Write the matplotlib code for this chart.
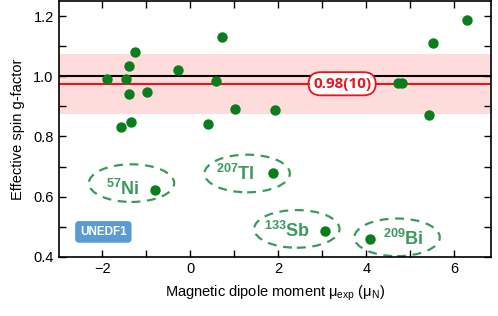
import matplotlib
matplotlib.use("Agg")
import matplotlib.pyplot as plt
from matplotlib.patches import Ellipse

plt.rcParams['font.family'] = ['Liberation Sans', 'DejaVu Sans']
plt.rcParams['mathtext.fontset'] = 'custom'
plt.rcParams['mathtext.rm'] = 'Liberation Sans'
plt.rcParams['mathtext.it'] = 'Liberation Sans:italic'
plt.rcParams['mathtext.bf'] = 'Liberation Sans:bold'

# data: magnetic moment vs effective spin g-factor
mu = [-1.89, -1.46, -1.40, -1.26, -1.40, -0.98, -1.59, -1.36, -0.28, 0.59,
      0.71, 0.39, 1.02, 1.93, 4.73, 4.81, 5.42, 5.52, 6.30]
gs = [0.992, 0.992, 1.033, 1.080, 0.942, 0.948, 0.833, 0.849, 1.022, 0.983,
      1.131, 0.840, 0.890, 0.887, 0.976, 0.976, 0.871, 1.110, 1.187]

# outliers, labelled
iso_names = [r'$\mathbf{^{57}Ni}$', r'$\mathbf{^{207}Tl}$', r'$\mathbf{^{133}Sb}$', r'$\mathbf{^{209}Bi}$']
iso_mu = [-0.81, 1.87, 3.07, 4.09]
iso_gs = [0.623, 0.679, 0.487, 0.458]
iso_lab_x = [-1.53, 1.02, 2.20, 4.85]
iso_lab_y = [0.627, 0.677, 0.486, 0.459]
ell_x = [-1.34, 1.29, 2.42, 4.70]
ell_y = [0.645, 0.677, 0.493, 0.465]

g_mean = 0.975
g_err = 0.10

fig = plt.figure(figsize=(4.98, 3.16), dpi=100)
ax = fig.add_axes([0.1175, 0.187, 0.868, 0.81])

ax.axhspan(g_mean - g_err, g_mean + g_err, color='#ffdcdc', lw=0, zorder=0)
ax.axhline(1.0, color='black', lw=1.5, zorder=1)
ax.axhline(g_mean, color='#e8141e', lw=1.5, zorder=1)

ax.plot(mu, gs, 'o', color='#0a7d1c', ms=7.5, mec='none', zorder=3)
ax.plot(iso_mu, iso_gs, 'o', color='#0a7d1c', ms=7.5, mec='none', zorder=3)

for n, lx, ly, ex, ey in zip(iso_names, iso_lab_x, iso_lab_y, ell_x, ell_y):
    ax.text(lx, ly, n, color='#3a9a5c', fontsize=13, ha='center', va='center', zorder=4)
    e = Ellipse((ex, ey), 1.94, 0.125, fill=False, ec='#3a9a5c', lw=1.6,
                ls=(0, (4, 3)), zorder=2)
    ax.add_patch(e)

ax.text(3.45, g_mean, '0.98(10)', color='#e8141e', fontsize=11, fontweight='bold',
        family=['Open Sans', 'DejaVu Sans'], ha='center', va='center', zorder=5,
        bbox=dict(boxstyle='round,pad=0.3,rounding_size=0.8', fc='white', ec='#e8141e', lw=1.3))

ax.text(-1.98, 0.483, 'UNEDF1', color='white', fontsize=8.5, fontweight='bold',
        ha='center', va='center', zorder=5,
        bbox=dict(boxstyle='round,pad=0.35,rounding_size=0.25', fc='#5b9bd5', ec='#5b9bd5'))

ax.set_xlim(-3, 6.83)
ax.set_ylim(0.4, 1.25)
ax.set_xticks([-2, 0, 2, 4, 6])
ax.set_xticks([-1, 1, 3, 5], minor=True)
ax.set_yticks([0.4, 0.6, 0.8, 1.0, 1.2])
ax.set_yticks([0.5, 0.7, 0.9, 1.1], minor=True)
ax.set_yticklabels(['0.4', '0.6', '0.8', '1.0', '1.2'])
ax.tick_params(which='both', direction='in', top=True, right=True, labelsize=10.5, width=1)
ax.tick_params(which='major', length=5)
ax.tick_params(which='minor', length=5)
for s in ax.spines.values():
    s.set_linewidth(1.2)

ax.set_xlabel(r'Magnetic dipole moment $\mathrm{\mu_{exp}}$ ($\mathrm{\mu_N}$)', fontsize=10.5, labelpad=6)
ax.set_ylabel('Effective spin g-factor', fontsize=10.5, labelpad=6)

fig.savefig('out.png', dpi=100)
